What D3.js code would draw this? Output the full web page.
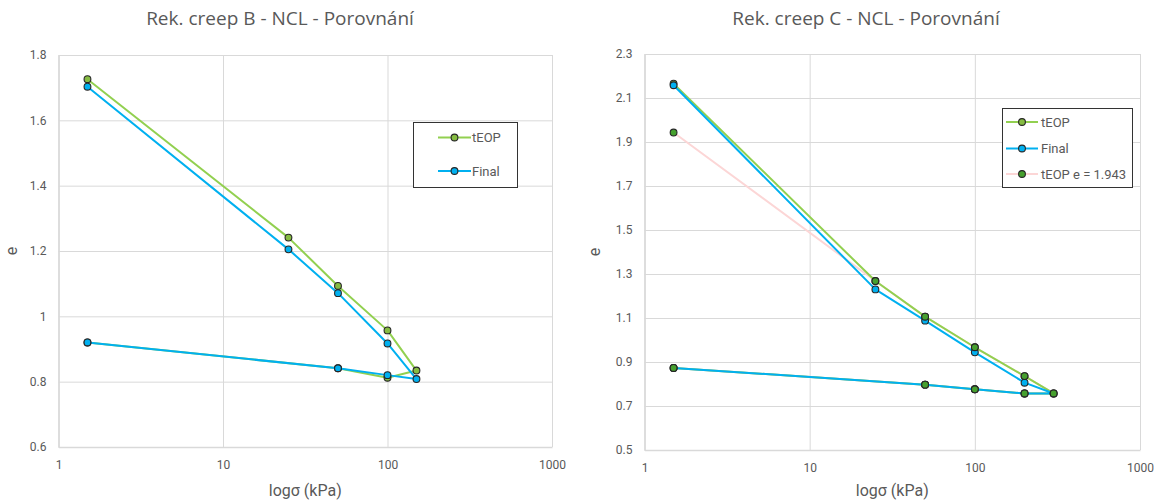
<!DOCTYPE html>
<html>
<head>
<meta charset="utf-8">
<script src="https://cdn.jsdelivr.net/npm/d3@7"></script>
<style>
  html, body { margin: 0; padding: 0; background: #ffffff; }
  svg { display: block; }
  text { font-family: Roboto, "Liberation Sans", Arial, sans-serif; }
</style>
</head>
<body>
<svg id="chart" width="1163" height="501"></svg>
<script>
// Axis ticks
const xTicks = [1, 10, 100, 1000];
const yTicksB = [0.6, 0.8, 1, 1.2, 1.4, 1.6, 1.8];
const yTicksC = [0.5, 0.7, 0.9, 1.1, 1.3, 1.5, 1.7, 1.9, 2.1, 2.3];

// Chart B: loading to 150 kPa, then unloading
const stressB = [1.5, 25, 50, 100, 150, 100, 50, 1.5];
const teopB   = [1.726, 1.241, 1.093, 0.957, 0.834, 0.812, 0.841, 0.920];
const finalB  = [1.703, 1.205, 1.071, 0.917, 0.808, 0.820, 0.841, 0.920];

// Chart C: loading to 300 kPa, then unloading
const stressC  = [1.5, 25, 50, 100, 200, 300, 200, 100, 50, 1.5];
const teopC    = [2.165, 1.268, 1.106, 0.967, 0.836, 0.757, 0.757, 0.776, 0.797, 0.873];
const finalC   = [2.158, 1.230, 1.088, 0.944, 0.806, 0.757, 0.757, 0.776, 0.797, 0.873];
const teopAltC = [1.943, 1.268, 1.106, 0.967, 0.836, 0.757, 0.757, 0.776, 0.797, 0.873];

const seriesNames = ["tEOP", "Final", "tEOP e = 1.943"];

const svg = d3.select("#chart");
const textColor = "#595959";
const gridColor = "#d9d9d9";
const outline = "#262626";

const styles = {
  teop:  { line: "#92D050", fill: "#86BC42", opacity: 1 },
  final: { line: "#00B0F0", fill: "#00B0F0", opacity: 1 },
  alt:   { line: "#FCD6D6", fill: "#46A02E", opacity: 1 }
};

function drawChart(cfg) {
  const g = svg.append("g");
  const x = d3.scaleLog().domain([1, 1000]).range([cfg.left, cfg.right]);
  const y = d3.scaleLinear().domain(cfg.yDomain).range([cfg.bottom, cfg.top]);

  // vertical grid
  g.append("g")
    .attr("transform", `translate(0,${cfg.top})`)
    .call(d3.axisBottom(x).tickValues(xTicks).tickSize(cfg.bottom - cfg.top).tickFormat(""))
    .call(a => a.select(".domain").remove())
    .call(a => a.selectAll("line").attr("stroke", gridColor).attr("stroke-width", 1));

  // horizontal grid
  g.append("g")
    .attr("transform", `translate(${cfg.left},0)`)
    .call(d3.axisRight(y).tickValues(cfg.yTicks).tickSize(cfg.right - cfg.left).tickFormat(""))
    .call(a => a.select(".domain").remove())
    .call(a => a.selectAll("line").attr("stroke", gridColor).attr("stroke-width", 1));

  // x axis labels
  g.append("g")
    .attr("transform", `translate(0,${cfg.bottom})`)
    .call(d3.axisBottom(x).tickValues(xTicks).tickSize(0).tickPadding(13).tickFormat(d3.format("d")))
    .call(a => a.select(".domain").attr("stroke", gridColor).attr("stroke-width", 1.5))
    .call(a => a.selectAll("text").attr("fill", textColor).style("font-size", "12px")
      .style("font-family", "Roboto, 'Liberation Sans', Arial, sans-serif"));

  // y axis labels
  g.append("g")
    .attr("transform", `translate(${cfg.left},0)`)
    .call(d3.axisLeft(y).tickValues(cfg.yTicks).tickSize(0).tickPadding(12).tickFormat(cfg.yFormat))
    .call(a => a.select(".domain").attr("stroke", gridColor).attr("stroke-width", 1.5))
    .call(a => a.selectAll("text").attr("fill", textColor).style("font-size", "12px")
      .style("font-family", "Roboto, 'Liberation Sans', Arial, sans-serif"));

  // titles
  g.append("text").attr("x", cfg.titleX).attr("y", 25)
    .attr("text-anchor", "middle").attr("fill", textColor)
    .style("font-family", "'Open Sans', Roboto, sans-serif")
    .style("font-size", "19px").text(cfg.title);
  g.append("text").attr("x", (cfg.left + cfg.right) / 2).attr("y", 496)
    .attr("text-anchor", "middle").attr("fill", textColor)
    .style("font-size", "16px").text("logσ (kPa)");
  g.append("text")
    .attr("transform", `translate(${cfg.yLabelX},${(cfg.top + cfg.bottom) / 2}) rotate(-90)`)
    .attr("text-anchor", "middle").attr("fill", textColor)
    .style("font-size", "16px").text("e");

  const line = d3.line().x(d => x(d[0])).y(d => y(d[1]));

  const data = cfg.series.map(s => cfg.stress.map((v, i) => [v, s.values[i]]));

  // lines first (the faint reference series sits underneath), markers on top
  const lineOrder = cfg.series.map((s, i) => i).sort((a, b) => (cfg.series[a].under ? -1 : 0) - (cfg.series[b].under ? -1 : 0));
  lineOrder.forEach(i => {
    const s = cfg.series[i];
    g.append("path").datum(data[i])
      .attr("d", line)
      .attr("fill", "none")
      .attr("stroke", s.style.line)
      .attr("stroke-opacity", s.style.opacity)
      .attr("stroke-width", 2)
      .attr("stroke-linejoin", "round");
  });
  cfg.series.forEach((s, i) => {
    g.append("g").selectAll("circle").data(data[i]).join("circle")
      .attr("cx", d => x(d[0])).attr("cy", d => y(d[1])).attr("r", 3.4)
      .attr("fill", s.style.fill).attr("stroke", outline).attr("stroke-width", 1.1);
  });

  // legend
  const L = cfg.legend;
  g.append("rect").attr("x", L.x).attr("y", L.y).attr("width", L.w).attr("height", L.h)
    .attr("fill", "#ffffff").attr("stroke", "#333333").attr("stroke-width", 1);
  cfg.series.forEach((s, i) => {
    const yy = L.rowY[i];
    g.append("line").attr("x1", L.lineX1).attr("x2", L.lineX2).attr("y1", yy).attr("y2", yy)
      .attr("stroke", s.style.line).attr("stroke-opacity", s.style.opacity).attr("stroke-width", 2);
    g.append("circle").attr("cx", (L.lineX1 + L.lineX2) / 2).attr("cy", yy).attr("r", 3.4)
      .attr("fill", s.style.fill).attr("stroke", outline).attr("stroke-width", 1.1);
    g.append("text").attr("x", L.textX).attr("y", yy + 4.5)
      .attr("fill", textColor).style("font-size", "13px").text(s.name);
  });
}

drawChart({
  title: "Rek. creep B - NCL - Porovnání",
  titleX: 280,
  left: 58.5, right: 552, top: 55, bottom: 447,
  yDomain: [0.6, 1.8], yTicks: yTicksB, yFormat: d => String(d),
  yLabelX: 17,
  stress: stressB,
  series: [
    { name: seriesNames[0], values: teopB, style: styles.teop },
    { name: seriesNames[1], values: finalB, style: styles.final }
  ],
  legend: { x: 413.5, y: 122.5, w: 104, h: 65, rowY: [137.5, 171], lineX1: 438, lineX2: 471, textX: 472 }
});

drawChart({
  title: "Rek. creep C - NCL - Porovnání",
  titleX: 866,
  left: 644.5, right: 1140, top: 54, bottom: 450,
  yDomain: [0.5, 2.3], yTicks: yTicksC, yFormat: d3.format(".1f"),
  yLabelX: 600,
  stress: stressC,
  series: [
    { name: seriesNames[0], values: teopC, style: styles.teop },
    { name: seriesNames[1], values: finalC, style: styles.final },
    { name: seriesNames[2], values: teopAltC, style: styles.alt, under: true }
  ],
  legend: { x: 1002.5, y: 108.5, w: 130, h: 79, rowY: [122, 148.5, 174], lineX1: 1006, lineX2: 1038, textX: 1041 }
});
</script>
</body>
</html>
